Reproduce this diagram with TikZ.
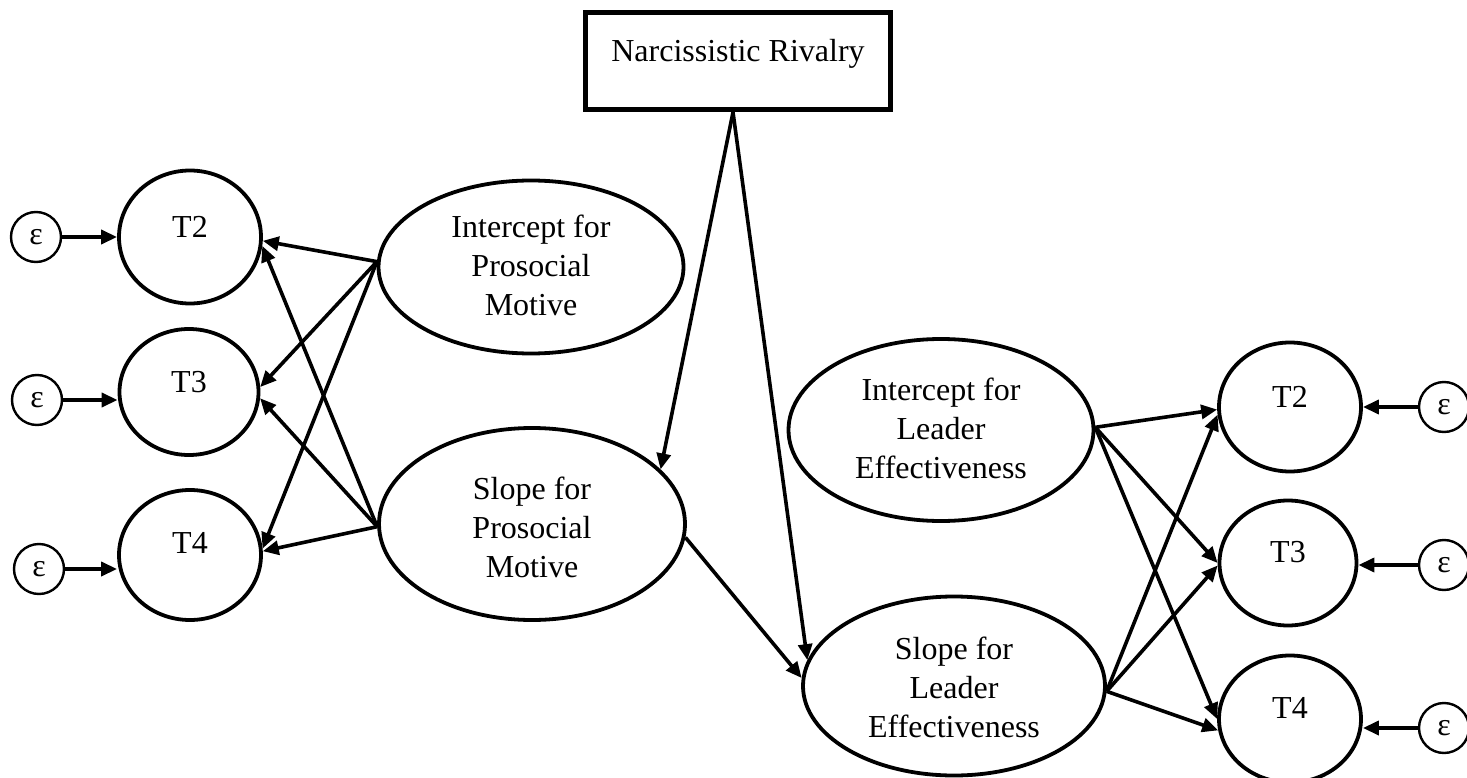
\documentclass[tikz,border=0pt]{standalone}
\usepackage{fontspec}
\setmainfont{Liberation Serif}
\usetikzlibrary{shapes.geometric,arrows.meta}
\begin{document}
\begin{tikzpicture}[x=1pt,y=-1pt,
  font=\fontsize{32}{39}\selectfont,
  lat/.style={ellipse,draw,line width=3.8pt,inner sep=0pt},
  err/.style={circle,draw,line width=2.4pt,inner sep=0pt,minimum size=50pt},
  lbl/.style={anchor=base,align=center,inner sep=0pt},
  arr/.style={line width=3.6pt,-{Triangle[length=16pt,width=14pt]}},
]
\useasboundingbox (0,0) rectangle (1467,778);

% Narcissistic Rivalry box
\node[draw,line width=5.5pt,minimum width=305pt,minimum height=97pt,inner sep=0pt] (nr) at (738,61) {};
\node[lbl] (nrt) at (738,62) {Narcissistic Rivalry};

% growth factors (label anchored at baseline of last line)
\node[lat,minimum width=305pt,minimum height=173pt] (ipm) at (531,267) {};
\node[lbl] (ipmt) at (531,315) {Intercept for\\Prosocial\\Motive};
\node[lat,minimum width=306pt,minimum height=192pt] (spm) at (532,524) {};
\node[lbl] (spmt) at (532,577) {Slope for\\Prosocial\\Motive};
\node[lat,minimum width=305pt,minimum height=182pt] (il) at (941,430) {};
\node[lbl] (ilt) at (941,478) {Intercept for\\Leader\\Effectiveness};
\node[lat,minimum width=302pt,minimum height=179pt] (sl) at (954,686) {};
\node[lbl] (slt) at (954,737) {Slope for\\Leader\\Effectiveness};

% left indicators
\node[lat,minimum width=142pt,minimum height=133pt] (t2l) at (190,237) {};
\node[lbl] (t2lt) at (190,237) {T2};
\node[lat,minimum width=139pt,minimum height=126pt] (t3l) at (189,392) {};
\node[lbl] (t3lt) at (189,392) {T3};
\node[lat,minimum width=142pt,minimum height=130pt] (t4l) at (190,555) {};
\node[lbl] (t4lt) at (190,553) {T4};

% right indicators
\node[lat,minimum width=142pt,minimum height=129pt] (t2r) at (1290,407) {};
\node[lbl] (t2rt) at (1290,407) {T2};
\node[lat,minimum width=137pt,minimum height=125pt] (t3r) at (1288,563) {};
\node[lbl] (t3rt) at (1288,562) {T3};
\node[lat,minimum width=142pt,minimum height=127pt] (t4r) at (1290,719) {};
\node[lbl] (t4rt) at (1290,718) {T4};

% errors
\node[err] (e1l) at (36,237) {ε};
\node[err] (e2l) at (37,400) {ε};
\node[err] (e3l) at (39,569) {ε};
\node[err] (e1r) at (1444,407) {ε};
\node[err] (e2r) at (1444,565) {ε};
\node[err] (e3r) at (1444,728) {ε};

% error arrows
\draw[arr] (e1l) -- (e1l -| t2l.west);
\draw[arr] (e2l) -- (e2l -| t3l.west);
\draw[arr] (e3l) -- (e3l -| t4l.west);
\draw[arr] (e1r) -- (e1r -| t2r.east);
\draw[arr] (e2r) -- (e2r -| t3r.east);
\draw[arr] (e3r) -- (e3r -| t4r.east);

% left loadings
\draw[arr] (ipm.178) -- (t2l.-3);
\draw[arr] (ipm.178) -- (t3l.4);
\draw[arr] (ipm.178) -- (t4l.5);
\draw[arr] (spm.181) -- (t2l.-7);
\draw[arr] (spm.181) -- (t3l.-5);
\draw[arr] (spm.181) -- (t4l.3);

% right loadings
\draw[arr] (il.1) -- (t2r.182);
\draw[arr] (il.1) -- (t3r.180);
\draw[arr] (il.1) -- (t4r.180);
\draw[arr] (sl.-2) -- (t2r.186);
\draw[arr] (sl.-2) -- (t3r.182);
\draw[arr] (sl.-2) -- (t4r.189);

% structural paths
\draw[arr] ([xshift=-5pt]nr.south) -- (spm.23);
\draw[arr] ([xshift=-5pt]nr.south) -- (sl.170);
\draw[arr] (spm.-5) -- (sl.177);
\end{tikzpicture}
\end{document}
